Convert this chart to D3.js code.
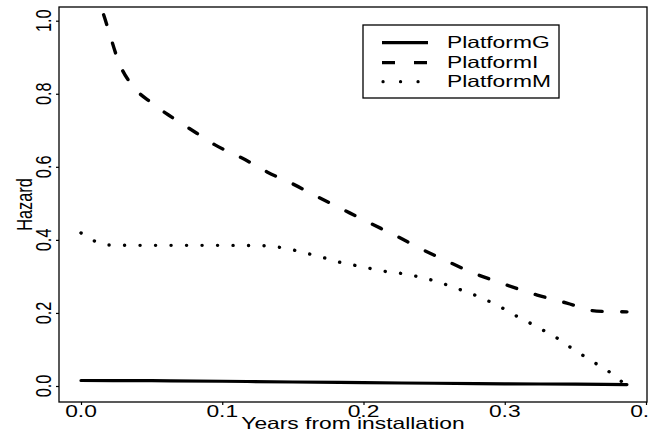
<!DOCTYPE html>
<html>
<head>
<meta charset="utf-8">
<script src="https://cdn.jsdelivr.net/npm/d3@7"></script>
<style>
  html, body { margin: 0; padding: 0; background: #fff; }
  svg { display: block; }
  text { font-family: "Liberation Sans", Arial, sans-serif; fill: #000; }
</style>
</head>
<body>
<svg id="chart" width="656" height="432"></svg>
<script>
// ---------- data ----------
const seriesNames = ["PlatformG", "PlatformI", "PlatformM"];

const xG = [0.0, 0.05, 0.1, 0.15, 0.2, 0.25, 0.3, 0.35, 0.3865];
const yG = [0.015, 0.0145, 0.013, 0.011, 0.009, 0.0075, 0.006, 0.005, 0.004];

const xI = [0.0, 0.005, 0.0105, 0.0156, 0.0205, 0.0255, 0.0276, 0.036, 0.050, 0.065, 0.082, 0.0949,
            0.114, 0.1317, 0.150, 0.168, 0.186, 0.2046, 0.223, 0.241, 0.259, 0.278, 0.295,
            0.323, 0.344, 0.365, 0.3865];
const yI = [1.25, 1.14, 1.07, 1.021, 0.961, 0.90, 0.879, 0.824, 0.775, 0.734, 0.692, 0.660,
            0.624, 0.586, 0.553, 0.517, 0.482, 0.446, 0.411, 0.375, 0.342, 0.309, 0.285,
            0.249, 0.227, 0.205, 0.203];

const xM = [0.0, 0.008, 0.018, 0.05, 0.10, 0.13, 0.143, 0.153, 0.164, 0.175, 0.185, 0.197, 0.207,
            0.218, 0.229, 0.24, 0.251, 0.261, 0.291, 0.300, 0.309, 0.318, 0.327, 0.336, 0.344,
            0.352, 0.36, 0.369, 0.377, 0.3865];
const yM = [0.419, 0.40, 0.386, 0.385, 0.385, 0.384, 0.378, 0.370, 0.359, 0.348, 0.337, 0.328, 0.320,
            0.312, 0.307, 0.298, 0.287, 0.274, 0.228, 0.21, 0.19, 0.172, 0.153, 0.134, 0.112,
            0.093, 0.071, 0.052, 0.03, 0.0];

const xTicks = [0.0, 0.1, 0.2, 0.3, 0.4];
const xTickLabels = ["0.0", "0.1", "0.2", "0.3", "0.4"];
const yTicks = [0.0, 0.2, 0.4, 0.6, 0.8, 1.0];
const yTickLabels = ["0.0", "0.2", "0.4", "0.6", "0.8", "1.0"];
const xTitle = "Years from installation";
const yTitle = "Hazard";

// ---------- layout ----------
const plot = { left: 59, right: 647, top: 7, bottom: 402 };
const FS = 16.3;       // font size
const SX = 1.4;        // horizontal stretch of text (as in reference)

const x = d3.scaleLinear().domain([0, 0.4]).range([81, 646]);
const y = d3.scaleLinear().domain([0, 1]).range([386, 20.7]);

const svg = d3.select("#chart");
const defs = svg.append("defs");

defs.append("clipPath").attr("id", "plotclip")
  .append("rect")
  .attr("x", plot.left).attr("y", plot.top)
  .attr("width", plot.right - plot.left).attr("height", plot.bottom - plot.top);

// the reference image is cropped just right of the plot frame
defs.append("clipPath").attr("id", "pageclip")
  .append("rect").attr("x", 0).attr("y", 0).attr("width", 648.5).attr("height", 432);

const styles = [
  { dash: null, cap: "round", width: 3.2 },
  { dash: "10,19.6", cap: "round", width: 3.4 },
  { dash: "0.1,15.4", cap: "round", width: 3.4 }
];

const series = [
  { xs: xG, ys: yG },
  { xs: xI, ys: yI },
  { xs: xM, ys: yM }
];

const line = d3.line().x(d => x(d[0])).y(d => y(d[1])).curve(d3.curveMonotoneX);

const gLines = svg.append("g").attr("clip-path", "url(#plotclip)");
series.forEach((s, i) => {
  const pts = s.xs.map((v, k) => [v, s.ys[k]]);
  gLines.append("path")
    .datum(pts)
    .attr("d", line)
    .attr("fill", "none")
    .attr("stroke", "#000")
    .attr("stroke-width", styles[i].width)
    .attr("stroke-linecap", styles[i].cap)
    .attr("stroke-linejoin", "round")
    .attr("stroke-dasharray", styles[i].dash);
});

// ---------- box ----------
svg.append("rect")
  .attr("x", plot.left).attr("y", plot.top)
  .attr("width", plot.right - plot.left).attr("height", plot.bottom - plot.top)
  .attr("fill", "none").attr("stroke", "#000").attr("stroke-width", 1.3);

// ---------- axes ----------
const xAxis = d3.axisBottom(x).tickValues(xTicks).tickSize(3).tickFormat("");
const gx = svg.append("g").attr("transform", `translate(0,${plot.bottom})`).call(xAxis);
gx.select(".domain").remove();
gx.selectAll(".tick line").attr("stroke", "#000").attr("stroke-width", 1.2);

const yAxis = d3.axisLeft(y).tickValues(yTicks).tickSize(3).tickFormat("");
const gy = svg.append("g").attr("transform", `translate(${plot.left},0)`).call(yAxis);
gy.select(".domain").remove();
gy.selectAll(".tick line").attr("stroke", "#000").attr("stroke-width", 1.2);

// x tick labels
const gxl = svg.append("g").attr("clip-path", "url(#pageclip)");
xTicks.forEach((t, i) => {
  gxl.append("g").attr("transform", `translate(${x(t)},417) scale(${SX},1)`)
    .append("text").attr("text-anchor", "middle").attr("font-size", FS)
    .text(xTickLabels[i]);
});
// y tick labels (rotated)
yTicks.forEach((t, i) => {
  svg.append("g").attr("transform", `translate(50.5,${y(t)}) scale(${SX},1) rotate(-90)`)
    .append("text").attr("text-anchor", "middle").attr("font-size", FS)
    .text(yTickLabels[i]);
});

// axis titles
svg.append("g").attr("transform", `translate(${(plot.left + plot.right) / 2},428.5) scale(${SX},1)`)
  .append("text").attr("text-anchor", "middle").attr("font-size", FS).text(xTitle);
svg.append("g").attr("transform", `translate(32,${(plot.top + plot.bottom) / 2}) scale(${SX},1) rotate(-90)`)
  .append("text").attr("text-anchor", "middle").attr("font-size", FS).text(yTitle);

// ---------- legend ----------
const leg = { x: 363, y: 25, w: 196, h: 73 };
svg.append("rect").attr("x", leg.x).attr("y", leg.y).attr("width", leg.w).attr("height", leg.h)
  .attr("fill", "#fff").attr("stroke", "#000").attr("stroke-width", 1.3);

const legRows = [42.7, 62.7, 81.7];
const legDash = [null, "13,19", "0.1,17.4"];
const legCap = ["butt", "butt", "round"];
const legX0 = [382, 382, 383];
seriesNames.forEach((name, i) => {
  svg.append("line")
    .attr("x1", legX0[i]).attr("x2", 428)
    .attr("y1", legRows[i]).attr("y2", legRows[i])
    .attr("stroke", "#000").attr("stroke-width", 3.2)
    .attr("stroke-linecap", legCap[i])
    .attr("stroke-dasharray", legDash[i]);
  svg.append("g").attr("transform", `translate(447,${legRows[i] + 5}) scale(${SX},1)`)
    .append("text").attr("font-size", FS).text(name);
});
</script>
</body>
</html>
